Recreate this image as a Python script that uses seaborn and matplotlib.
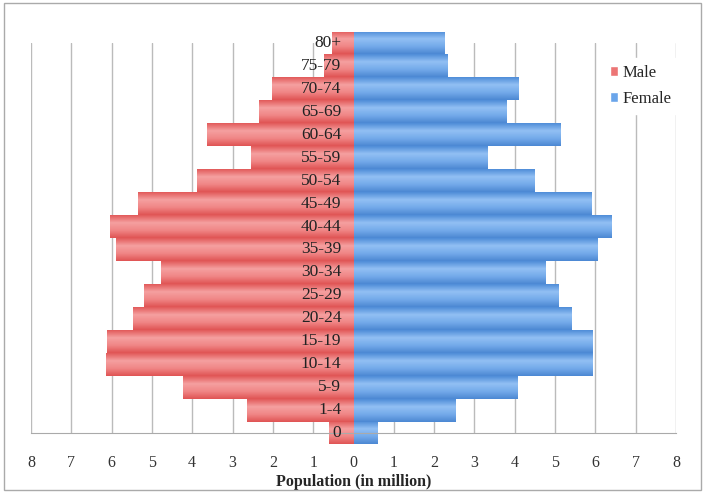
import numpy as np
import pandas as pd
import matplotlib.pyplot as plt
import seaborn as sns
from matplotlib.patches import Rectangle, Patch
from matplotlib.colors import LinearSegmentedColormap

# Age groups, top of the pyramid first
age_groups = ["80+", "75-79", "70-74", "65-69", "60-64", "55-59", "50-54",
              "45-49", "40-44", "35-39", "30-34", "25-29", "20-24", "15-19",
              "10-14", "5-9", "1-4", "0"]
male = [0.53, 0.73, 2.02, 2.35, 3.63, 2.54, 3.88, 5.35, 6.04, 5.90,
        4.77, 5.20, 5.47, 6.12, 6.14, 4.23, 2.64, 0.61]
female = [2.25, 2.31, 4.07, 3.78, 5.12, 3.30, 4.48, 5.88, 6.39, 6.05,
          4.76, 5.07, 5.39, 5.92, 5.92, 4.05, 2.52, 0.58]
x_ticks = list(range(-8, 9))
x_tick_labels = [str(abs(v)) for v in x_ticks]

# long form table, males drawn to the left
df = pd.DataFrame({
    "age": age_groups * 2,
    "value": [-m for m in male] + female,
    "sex": ["Male"] * len(male) + ["Female"] * len(female),
})

colors = {"Male": "#EC7575", "Female": "#6AA5EA"}
# excel-like shading: darker edges, lighter upper middle
shades = {
    "Male": ["#E25A5A", "#F5A0A0", "#F08686", "#E05454"],
    "Female": ["#4F8DD8", "#92C0F4", "#74AAEA", "#4C88D3"],
}

sns.set_style("white")
plt.rcParams["font.family"] = ["Liberation Serif", "DejaVu Serif"]

fig = plt.figure(figsize=(7.05, 4.93), dpi=100)
ax = fig.add_axes([31 / 705, 1 - 433 / 493, 645 / 705, 390 / 493])

sns.barplot(data=df, y="age", x="value", hue="sex", order=age_groups,
            hue_order=["Male", "Female"], orient="h", dodge=False,
            width=1.0, palette=colors, saturation=1, linewidth=0,
            legend=False, ax=ax, zorder=2)

# replace flat fill with a vertical gradient clipped to each bar
grad = np.linspace(0, 1, 64).reshape(-1, 1)
for container, sex in zip(ax.containers, ["Male", "Female"]):
    cmap = LinearSegmentedColormap.from_list(sex, shades[sex])
    for bar in container:
        x0, y0 = bar.get_x(), bar.get_y()
        w, h = bar.get_width(), bar.get_height()
        bar.set_facecolor("none")
        im = ax.imshow(grad, cmap=cmap, aspect="auto", origin="upper",
                       extent=(x0, x0 + w, y0 + h, y0), zorder=2,
                       interpolation="bilinear")
        im.set_clip_path(bar)

ax.set_xlim(-8, 8)
ax.set_ylim(len(age_groups) - 1, 0)
ax.set_xticks(x_ticks)
ax.set_xticklabels(x_tick_labels, fontsize=11.5, color="#333333")
ax.tick_params(axis="x", length=0, pad=16)
ax.set_yticks([])
ax.set_ylabel("")
ax.set_xlabel("Population (in million)", fontsize=11.5, fontweight="bold",
              labelpad=2)

ax.grid(axis="x", color="#BBBBBB", linewidth=1, zorder=0)
ax.set_axisbelow(True)
for side in ["top", "right", "left"]:
    ax.spines[side].set_visible(False)
ax.spines["bottom"].set_color("#AAAAAA")

# age labels sit in the middle of the pyramid
for i, lab in enumerate(age_groups):
    ax.text(-0.3, i, lab, ha="right", va="center", fontsize=12.5,
            color="#222222", zorder=5, clip_on=False)

handles = [Patch(facecolor=colors[s], label=s) for s in ["Male", "Female"]]
leg = ax.legend(handles=handles, loc="upper left",
                bbox_to_anchor=(0.874, 0.982), frameon=True, fontsize=12,
                handlelength=0.5, handleheight=0.5, handletextpad=0.25,
                labelspacing=0.6, borderpad=0.4)
leg.get_frame().set_edgecolor("white")
leg.get_frame().set_facecolor("white")
leg.get_frame().set_alpha(1)

fig.patches.append(Rectangle((4 / 705, 3 / 493), 697 / 705, 487 / 493,
                             transform=fig.transFigure, fill=False,
                             edgecolor="#AAAAAA", linewidth=1))

fig.savefig("out.png", dpi=100)
